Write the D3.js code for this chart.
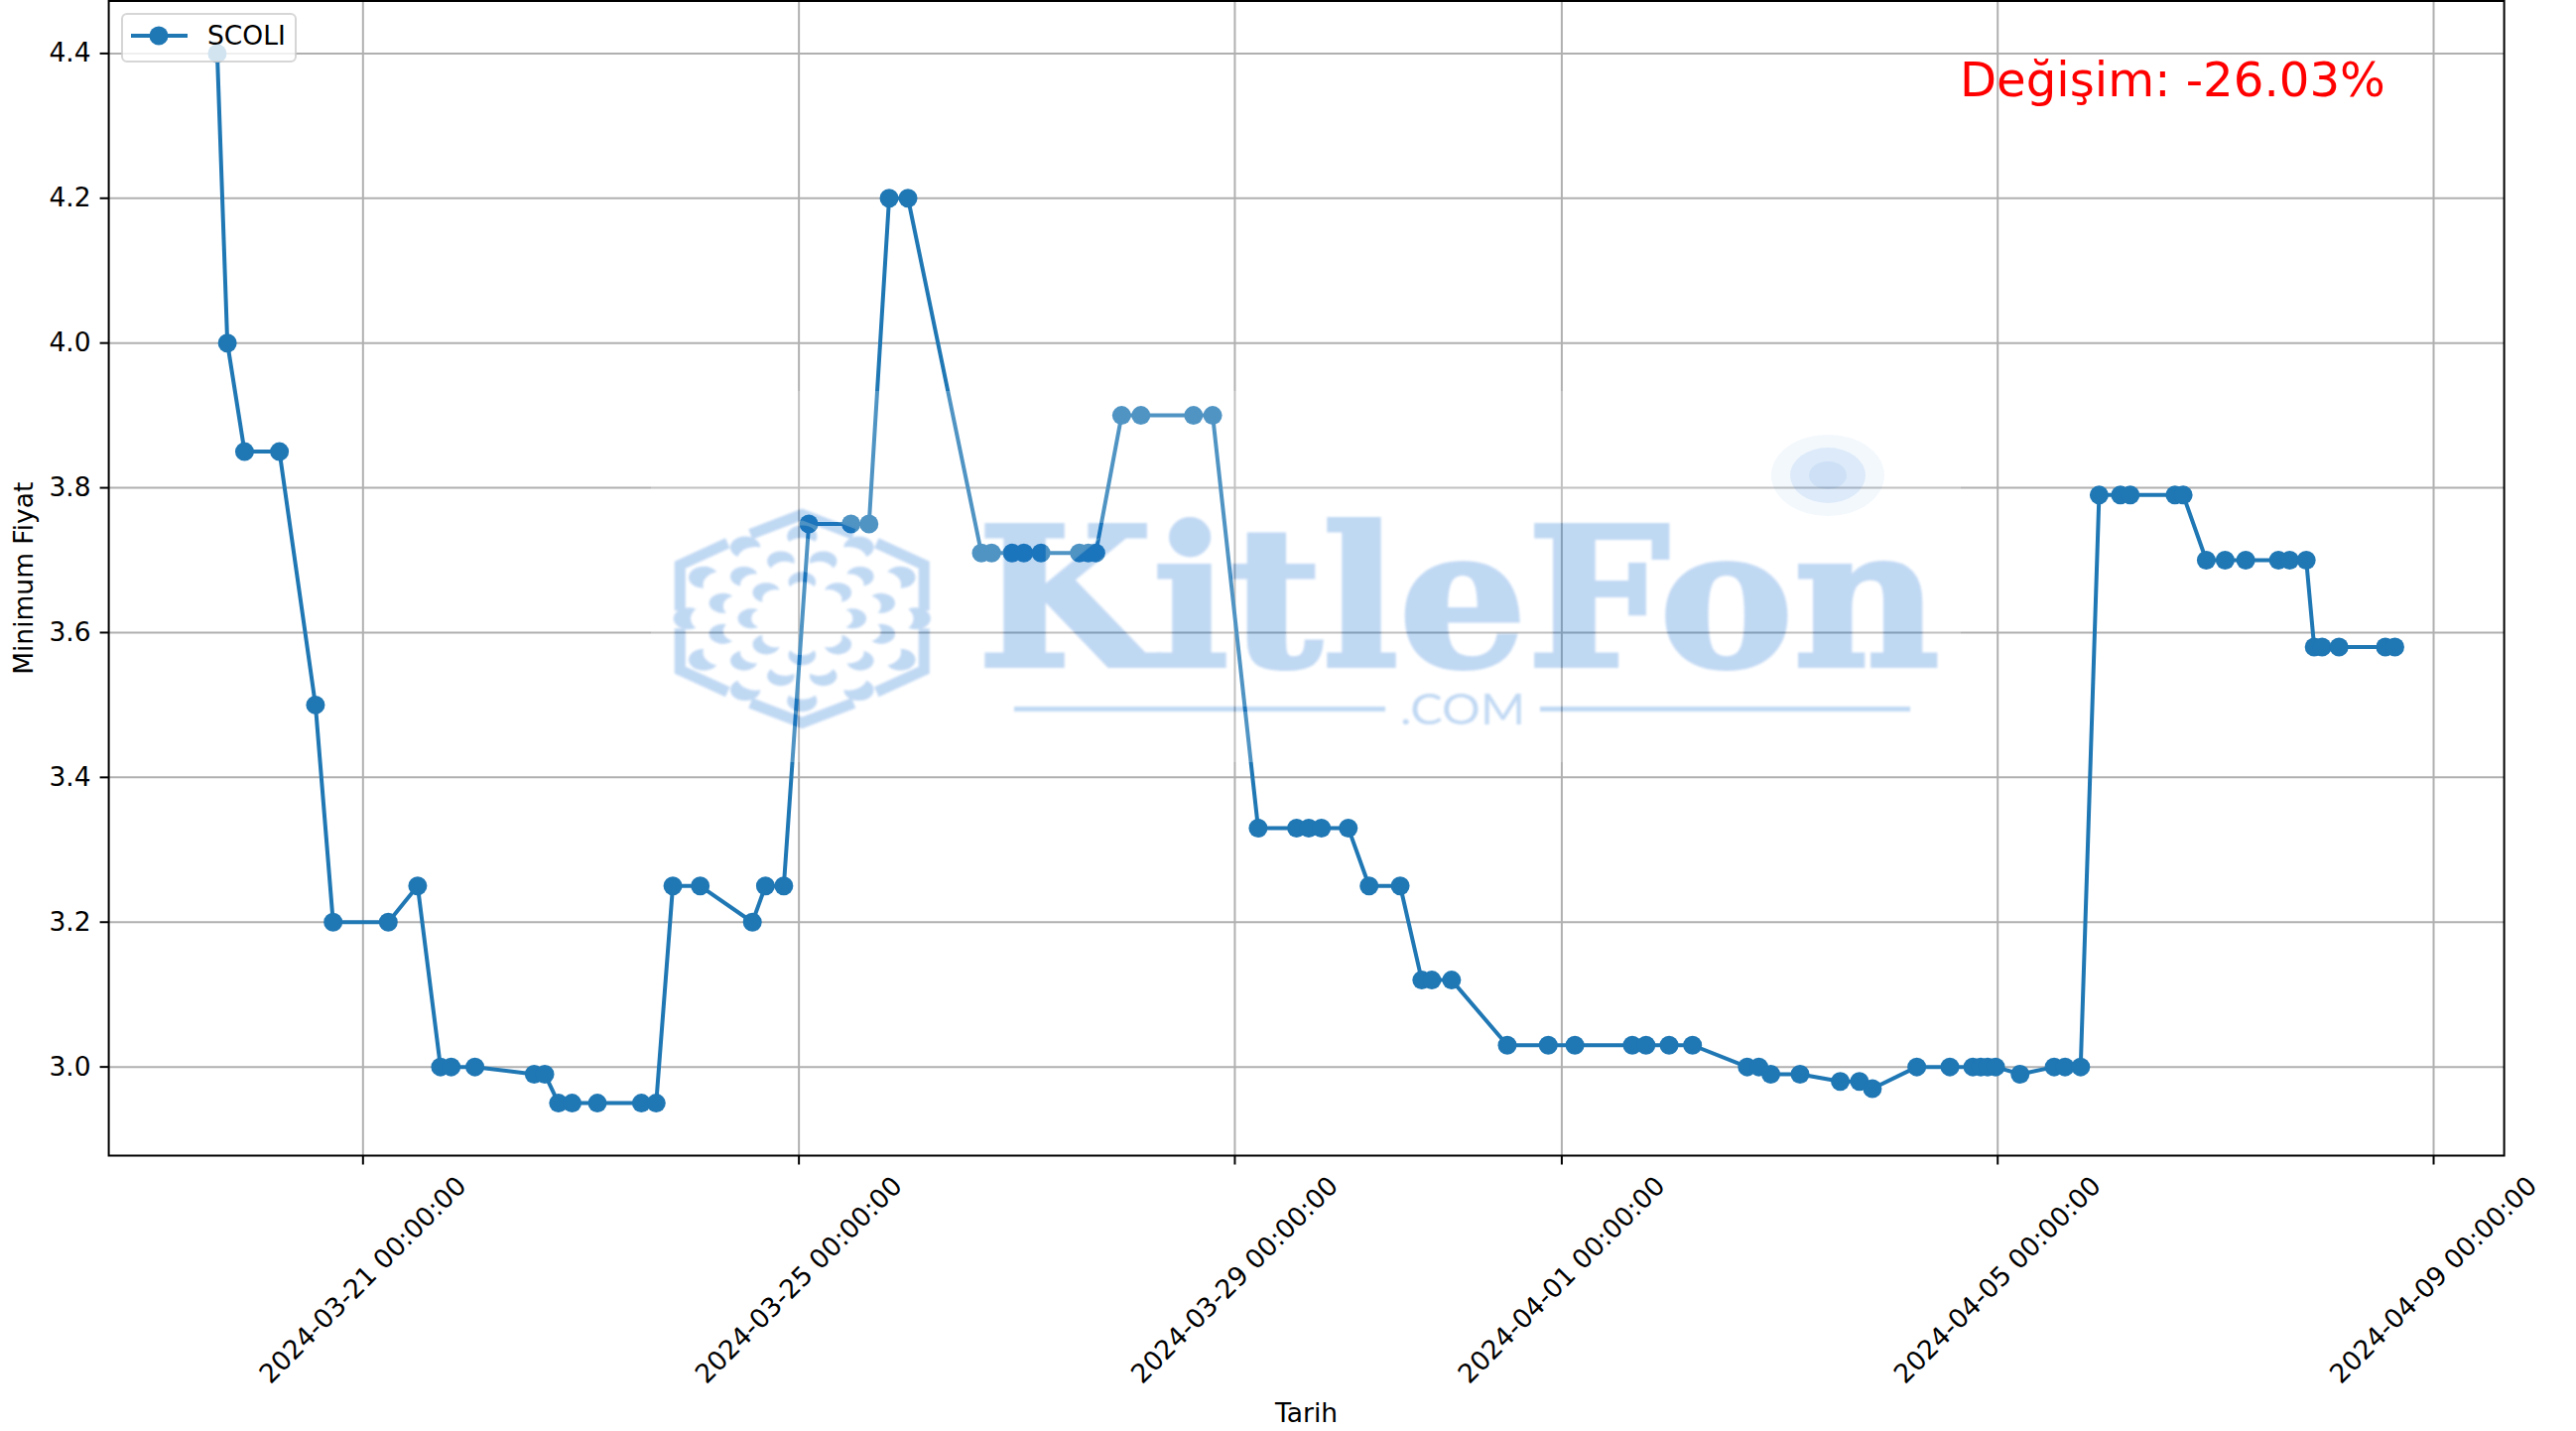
<!DOCTYPE html>
<html lang="en">
  <head>
    <meta charset="utf-8">
    <title>SCOLI Minimum Fiyat</title>
    <script src="https://d3js.org/d3.v7.js"></script>
    <style>
      body { margin: 0; background: white; }
      text { font-family: "DejaVu Sans"; }
    </style>
  </head>

  <body>

  <script>

  // data

  var seriesName = "SCOLI";
  var changeLabel = "Değişim: -26.03%";
  var xTitle = "Tarih";
  var yTitle = "Minimum Fiyat";

  var dates = [
    "2024-03-19 15:54", "2024-03-19 18:08", "2024-03-19 21:55", "2024-03-20 05:36", "2024-03-20 13:32",
    "2024-03-20 17:25", "2024-03-21 05:34", "2024-03-21 12:02", "2024-03-21 17:04", "2024-03-21 19:25",
    "2024-03-22 00:39", "2024-03-22 13:42", "2024-03-22 16:02", "2024-03-22 19:03", "2024-03-22 22:03",
    "2024-03-23 03:37", "2024-03-23 13:19", "2024-03-23 16:34", "2024-03-23 20:14", "2024-03-24 02:16",
    "2024-03-24 13:45", "2024-03-24 16:38", "2024-03-24 20:40", "2024-03-25 02:11", "2024-03-25 11:28",
    "2024-03-25 15:26", "2024-03-25 19:52", "2024-03-26 00:01", "2024-03-26 16:11", "2024-03-26 18:26",
    "2024-03-26 22:58", "2024-03-27 01:32", "2024-03-27 05:19", "2024-03-27 13:46", "2024-03-27 15:44",
    "2024-03-27 17:23", "2024-03-27 23:04", "2024-03-28 03:19", "2024-03-28 14:54", "2024-03-28 19:07",
    "2024-03-29 05:08", "2024-03-29 13:36", "2024-03-29 16:17", "2024-03-29 19:04", "2024-03-30 00:59",
    "2024-03-30 05:34", "2024-03-30 12:25", "2024-03-30 17:10", "2024-03-30 19:23", "2024-03-30 23:44",
    "2024-03-31 12:00", "2024-03-31 21:01", "2024-04-01 02:53", "2024-04-01 15:32", "2024-04-01 18:33",
    "2024-04-01 23:38", "2024-04-02 04:48", "2024-04-02 16:50", "2024-04-02 19:24", "2024-04-02 22:02",
    "2024-04-03 04:28", "2024-04-03 13:20", "2024-04-03 17:33", "2024-04-03 20:24", "2024-04-04 06:11",
    "2024-04-04 13:28", "2024-04-04 18:31", "2024-04-04 20:16", "2024-04-04 21:47", "2024-04-04 23:32",
    "2024-04-05 04:56", "2024-04-05 12:26", "2024-04-05 14:50", "2024-04-05 18:16", "2024-04-05 22:20",
    "2024-04-06 03:01", "2024-04-06 05:12", "2024-04-06 15:02", "2024-04-06 16:51", "2024-04-06 21:56",
    "2024-04-07 02:05", "2024-04-07 06:37", "2024-04-07 13:50", "2024-04-07 16:18", "2024-04-07 19:57",
    "2024-04-07 21:42", "2024-04-07 23:26", "2024-04-08 03:10", "2024-04-08 13:22", "2024-04-08 15:28"
  ];

  var prices = [
    4.40, 4.00, 3.85, 3.85, 3.50,
    3.20, 3.20, 3.25, 3.00, 3.00,
    3.00, 2.99, 2.99, 2.95, 2.95,
    2.95, 2.95, 2.95, 3.25, 3.25,
    3.20, 3.25, 3.25, 3.75, 3.75,
    3.75, 4.20, 4.20, 3.71, 3.71,
    3.71, 3.71, 3.71, 3.71, 3.71,
    3.71, 3.90, 3.90, 3.90, 3.90,
    3.33, 3.33, 3.33, 3.33, 3.33,
    3.25, 3.25, 3.12, 3.12, 3.12,
    3.03, 3.03, 3.03, 3.03, 3.03,
    3.03, 3.03, 3.00, 3.00, 2.99,
    2.99, 2.98, 2.98, 2.97, 3.00,
    3.00, 3.00, 3.00, 3.00, 3.00,
    2.99, 3.00, 3.00, 3.00, 3.79,
    3.79, 3.79, 3.79, 3.79, 3.70,
    3.70, 3.70, 3.70, 3.70, 3.70,
    3.58, 3.58, 3.58, 3.58, 3.58
  ];

  var xTickLabels = ["2024-03-21", "2024-03-25", "2024-03-29", "2024-04-01", "2024-04-05", "2024-04-09"];
  var yTickValues = [3.0, 3.2, 3.4, 3.6, 3.8, 4.0, 4.2, 4.4];

  var w = 2596;
  var h = 1442;
  var left = 109.6;
  var right = 2523.6;
  var top_ = 1;
  var bottom = 1164.5;

  var blue = "#1f77b4";
  var grey = "#b0b0b0";
  var fontSize = 26.5;

  var parseDate = d3.utcParse("%Y-%m-%d %H:%M");
  var parseDay = d3.utcParse("%Y-%m-%d");
  var points = dates.map((d, i) => ({ date: parseDate(d), price: prices[i] }));

  // same 5% margins matplotlib puts around the data
  var xExtent = d3.extent(points, d => d.date.getTime());
  var xPad = (xExtent[1] - xExtent[0]) * 0.05;
  var yExtent = d3.extent(prices);
  var yPad = (yExtent[1] - yExtent[0]) * 0.05;

  var xScale = d3.scaleUtc()
      .domain([new Date(xExtent[0] - xPad), new Date(xExtent[1] + xPad)])
      .range([left - 0.4, right - 0.4]);

  var yScale = d3.scaleLinear()
      .domain([yExtent[0] - yPad, yExtent[1] + yPad])
      .range([bottom, top_]);

  var svg = d3.select("body")
    .append("svg")
      .attr("width", w)
      .attr("height", h)
      .style("display", "block");

  // grid

  svg.append("g")
      .attr("transform", `translate(0,${bottom})`)
      .call(d3.axisBottom(xScale).tickValues(xTickLabels.map(parseDay)).tickSize(top_ - bottom).tickFormat("").offset(0))
      .call(g => g.select(".domain").remove())
      .call(g => g.selectAll("line").attr("stroke", grey).attr("stroke-width", 2));

  svg.append("g")
      .attr("transform", `translate(${left},0)`)
      .call(d3.axisLeft(yScale).tickValues(yTickValues).tickSize(left - right).tickFormat("").offset(0))
      .call(g => g.select(".domain").remove())
      .call(g => g.selectAll("line").attr("stroke", grey).attr("stroke-width", 2));

  // line and markers

  var line = d3.line()
      .x(d => xScale(d.date))
      .y(d => yScale(d.price));

  svg.append("path")
      .datum(points)
      .attr("d", line)
      .attr("fill", "none")
      .attr("stroke", blue)
      .attr("stroke-width", 4)
      .attr("stroke-linejoin", "round");

  svg.selectAll("circle.point")
      .data(points)
      .enter()
      .append("circle")
      .attr("class", "point")
      .attr("cx", d => xScale(d.date))
      .attr("cy", d => yScale(d.price))
      .attr("r", 9.5)
      .attr("fill", blue);

  // axes

  var xAxis = svg.append("g")
      .attr("transform", `translate(0,${bottom})`)
      .call(d3.axisBottom(xScale)
        .tickValues(xTickLabels.map(parseDay))
        .tickSize(9)
        .offset(0)
        .tickFormat(d3.utcFormat("%Y-%m-%d %H:%M:%S")));

  xAxis.selectAll("text")
      .attr("x", 0)
      .attr("y", 0)
      .attr("dy", "0.35em")
      .attr("text-anchor", "middle")
      .attr("transform", "translate(-0.5,125) rotate(-45)");

  var yAxis = svg.append("g")
      .attr("transform", `translate(${left},0)`)
      .call(d3.axisLeft(yScale).tickValues(yTickValues).tickSize(9).tickPadding(9).offset(0).tickFormat(d3.format(".1f")));

  [xAxis, yAxis].forEach(a => {
    a.select(".domain").remove();
    a.selectAll("line").attr("stroke", "black").attr("stroke-width", 2);
    a.selectAll("text").attr("fill", "black").style("font-size", fontSize + "px").style("font-family", "DejaVu Sans");
  });

  svg.append("rect")
      .attr("x", left)
      .attr("y", top_)
      .attr("width", right - left)
      .attr("height", bottom - top_)
      .attr("fill", "none")
      .attr("stroke", "black")
      .attr("stroke-width", 2);

  svg.append("text")
      .attr("x", (left + right) / 2)
      .attr("y", 1433)
      .attr("text-anchor", "middle")
      .style("font-size", fontSize + "px")
      .text(xTitle);

  svg.append("text")
      .attr("transform", `translate(32.5,${(top_ + bottom) / 2}) rotate(-90)`)
      .attr("text-anchor", "middle")
      .style("font-size", fontSize + "px")
      .text(yTitle);

  // legend

  var legend = svg.append("g");

  legend.append("rect")
      .attr("x", 123)
      .attr("y", 14)
      .attr("width", 175)
      .attr("height", 48)
      .attr("rx", 5)
      .attr("fill", "white")
      .attr("fill-opacity", 0.8)
      .attr("stroke", "#cccccc")
      .attr("stroke-opacity", 0.8)
      .attr("stroke-width", 2);

  legend.append("line")
      .attr("x1", 132)
      .attr("x2", 189)
      .attr("y1", 36)
      .attr("y2", 36)
      .attr("stroke", blue)
      .attr("stroke-width", 4);

  legend.append("circle")
      .attr("cx", 160)
      .attr("cy", 36)
      .attr("r", 9.5)
      .attr("fill", blue);

  legend.append("text")
      .attr("x", 209)
      .attr("y", 45)
      .style("font-size", fontSize + "px")
      .text(seriesName);

  svg.append("text")
      .attr("x", 1975)
      .attr("y", 97)
      .attr("fill", "red")
      .style("font-size", "48.2px")
      .text(changeLabel);

  // KitleFon watermark laid over the plot, logo stretched like the original image

  var wmX = 656;
  var wmY = 394;
  var wmW = 1320;
  var wmH = 374;
  var hexX = 808.3;
  var hexY = 623.3;
  var stretch = 1.38;
  var logoBlue = "#196fd3";

  var defs = svg.append("defs");

  var blur = defs.append("filter")
      .attr("id", "soft");
  blur.append("feGaussianBlur")
      .attr("stdDeviation", 0.8);

  var logo = defs.append("g")
      .attr("id", "logo");

  var hex = logo.append("g")
      .attr("transform", `translate(${hexX},${hexY})`);

  var hexPieces = [
    [[-52, -85], [0, -105], [52, -85]],
    [[-75, -76], [-123, -54], [-123, -8]],
    [[-123, 10], [-123, 52], [-75, 74]],
    [[-52, 85], [0, 105], [52, 85]],
    [[75, -76], [123, -54], [123, -8]],
    [[123, 10], [123, 52], [75, 74]]
  ];

  hex.selectAll("path.edge")
      .data(hexPieces)
      .enter()
      .append("path")
      .attr("class", "edge")
      .attr("d", d3.line())
      .attr("fill", "none")
      .attr("stroke", "currentColor")
      .attr("stroke-width", 11);

  // thin crescents in the middle, fuller ones at the rim
  var petalRings = [
    { count: 8, radius: 37, size: 10, bite: 1.0, start: 0 },
    { count: 12, radius: 60, size: 10, bite: 1.1, start: 15 },
    { count: 12, radius: 83, size: 11, bite: 1.25, start: 0 }
  ];

  petalRings.forEach(ring => {
    d3.range(ring.count).forEach(k => {
      var deg = ring.start + k * 360 / ring.count;
      var rad = deg * Math.PI / 180;
      hex.append("path")
          .attr("d", `M-0.5,-0.87A1,1 0 1 1 -0.5,0.87A${ring.bite},${ring.bite} 0 0 0 -0.5,-0.87Z`)
          .attr("transform", `scale(${stretch},1) translate(${ring.radius * Math.cos(rad)},${ring.radius * Math.sin(rad)}) rotate(${deg}) scale(${ring.size})`)
          .attr("fill", "currentColor");
    });
  });

  logo.append("text")
      .attr("x", 985)
      .attr("y", 671)
      .attr("textLength", 970)
      .attr("lengthAdjust", "spacingAndGlyphs")
      .attr("fill", "currentColor")
      .attr("stroke", "currentColor")
      .attr("stroke-width", 4)
      .style("font-family", "DejaVu Serif")
      .style("font-weight", "bold")
      .style("font-size", "194px")
      .text("KitleFon");

  logo.append("text")
      .attr("x", 1411)
      .attr("y", 730)
      .attr("textLength", 126)
      .attr("lengthAdjust", "spacingAndGlyphs")
      .attr("fill", "currentColor")
      .style("font-family", "Lato")
      .style("font-size", "42px")
      .text(".COM");

  [[1022, 1396], [1552, 1925]].forEach(d => {
    logo.append("rect")
        .attr("x", d[0])
        .attr("y", 712)
        .attr("width", d[1] - d[0])
        .attr("height", 5)
        .attr("fill", "currentColor");
  });

  // white veil everywhere except under the logo shapes
  var mask = defs.append("mask")
      .attr("id", "veil")
      .attr("maskUnits", "userSpaceOnUse")
      .attr("x", wmX)
      .attr("y", wmY)
      .attr("width", wmW)
      .attr("height", wmH);

  mask.append("rect")
      .attr("x", wmX)
      .attr("y", wmY)
      .attr("width", wmW)
      .attr("height", wmH)
      .attr("fill", "white");

  mask.append("use")
      .attr("href", "#logo")
      .style("color", "black");

  svg.append("rect")
      .attr("x", wmX)
      .attr("y", wmY)
      .attr("width", wmW)
      .attr("height", wmH)
      .attr("fill", "white")
      .attr("fill-opacity", 0.22)
      .attr("mask", "url(#veil)");

  var mark = svg.append("g")
      .attr("filter", "url(#soft)")
      .attr("opacity", 0.27)
      .style("color", logoBlue);

  mark.append("use")
      .attr("href", "#logo");

  // the three rings over the n, they fade outwards
  var haloRings = [
    { rx: 57, ry: 41, alpha: 0.05 },
    { rx: 38, ry: 28, alpha: 0.1 },
    { rx: 19, ry: 14, alpha: 0.08 }
  ];

  svg.append("g")
      .selectAll("ellipse")
      .data(haloRings)
      .enter()
      .append("ellipse")
      .attr("cx", 1842)
      .attr("cy", 479)
      .attr("rx", d => d.rx)
      .attr("ry", d => d.ry)
      .attr("fill", logoBlue)
      .attr("fill-opacity", d => d.alpha);

    </script>

  </body>

</html>
